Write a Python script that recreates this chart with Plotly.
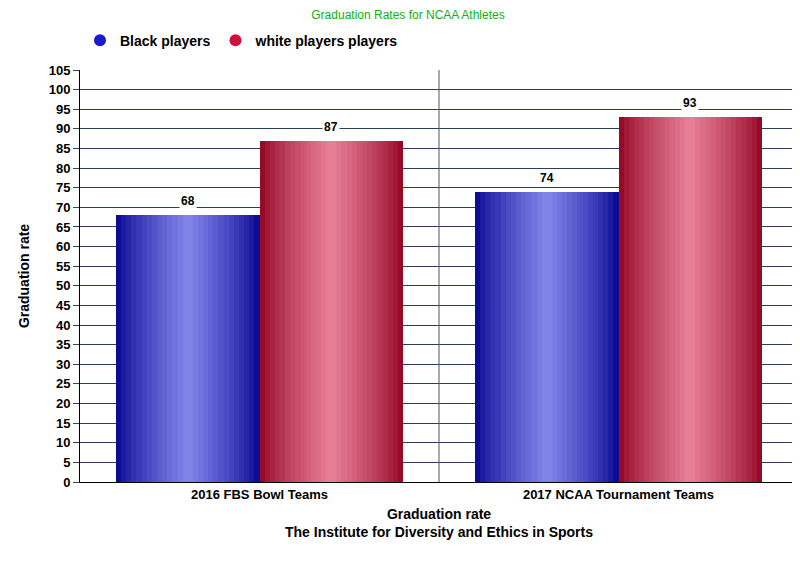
import plotly.graph_objects as go

categories = ["2016 FBS Bowl Teams", "2017 NCAA Tournament Teams"]
black_vals = [68, 74]
white_vals = [87, 93]
series_names = ["Black players", "white players players"]

def lerp(c1, c2, t):
    return "rgb(%d,%d,%d)" % tuple(int(a + (b - a) * t) for a, b in zip(c1, c2))

series = [
    (black_vals, -0.2, (12, 12, 150), (130, 130, 235), "#1a1ad0"),
    (white_vals, 0.2, (150, 10, 40), (232, 125, 150), "#d0103a"),
]
N = 14
fig = go.Figure()
for vals, off, dark, light, solid in series:
    xs = [i + off for i in range(len(categories))]
    for k in range(N):
        t = k / (N - 1)
        fig.add_trace(go.Bar(x=xs, y=vals, width=0.4 * (1 - 0.93 * t),
                             marker=dict(color=lerp(dark, light, t ** 0.8), line=dict(width=0)),
                             showlegend=False, hoverinfo="skip"))
    for x, v in zip(xs, vals):
        fig.add_annotation(x=x, y=v, text="<b>%d</b>" % v, showarrow=False, yshift=14,
                           bgcolor="white", font=dict(size=12, color="black"))

for name, (_, _, _, _, solid) in zip(series_names, series):
    fig.add_trace(go.Scatter(x=[None], y=[None], mode="markers", name="<b>%s</b>" % name,
                             marker=dict(symbol="circle", size=14, color=solid)))

fig.add_shape(type="line", x0=0.5, x1=0.5, y0=0, y1=105, xref="x", yref="y",
              line=dict(color="#555", width=1))

fig.update_layout(
    width=800, height=588, barmode="overlay", bargap=0,
    paper_bgcolor="white", plot_bgcolor="white",
    margin=dict(l=72, r=10, t=62, b=114),
    title=dict(text="Graduation Rates for NCAA Athletes", x=0.5, y=0.995, yanchor="top",
               font=dict(size=12, color="#10b010", family="Arial")),
    font=dict(family="Arial", color="black"),
    legend=dict(orientation="h", x=0.0, y=1.11, xanchor="left", yanchor="top",
                font=dict(size=14), itemsizing="constant"),
    xaxis=dict(range=[-0.5, 1.5], tickvals=[0, 1], ticktext=["<b>%s</b>" % c for c in categories],
               tickfont=dict(size=13), showline=True, linecolor="black", mirror=False,
               showgrid=False, zeroline=False, ticks="",
               title=dict(text="<b>Graduation rate<br>The Institute for Diversity and Ethics in Sports</b>",
                          font=dict(size=14), standoff=8)),
    yaxis=dict(range=[0, 105], dtick=5, tickfont=dict(size=13), ticks="outside", ticklen=6,
               showline=True, linecolor="black", mirror=True,
               gridcolor="#2a3f5f", gridwidth=1, zeroline=False,
               tickprefix="<b>", ticksuffix="</b>",
               title=dict(text="<b>Graduation rate</b>", font=dict(size=14))),
)
fig.write_html("out.html")
